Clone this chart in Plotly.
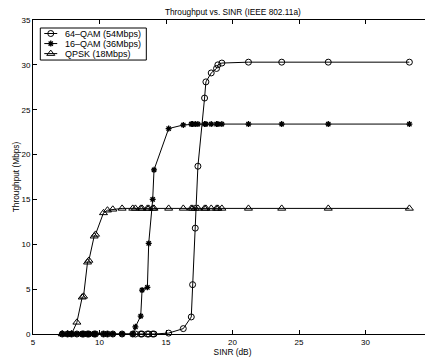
import plotly.graph_objects as go

sinr = [7.2, 7.6, 7.9, 8.3, 8.7, 8.8, 9.1, 9.2, 9.6, 9.7, 10.3, 10.6, 11.0, 11.7,
        12.5, 12.7, 13.1, 13.2, 13.6, 13.7, 14.0, 14.1, 15.2, 16.3, 16.9, 17.0,
        17.2, 17.4, 17.9, 18.0, 18.4, 18.8, 18.9, 19.2, 21.2, 23.7, 27.2, 33.3]

qam64 = [0, 0, 0, 0, 0, 0, 0, 0, 0, 0, 0, 0, 0, 0,
         0, 0, 0, 0, 0, 0, 0, 0, 0.1, 0.6, 1.9, 5.5,
         11.8, 18.7, 26.3, 28.1, 29.1, 29.6, 30.0, 30.2, 30.3, 30.3, 30.3, 30.3]

qam16 = [0, 0, 0, 0, 0, 0, 0, 0, 0, 0, 0, 0, 0, 0,
         0, 0.8, 2.0, 4.9, 5.2, 10.1, 15.0, 18.3, 22.9, 23.3, 23.4, 23.4,
         23.4, 23.4, 23.4, 23.4, 23.4, 23.4, 23.4, 23.4, 23.4, 23.4, 23.4, 23.4]

qpsk = [0, 0, 0, 1.3, 4.1, 4.2, 8.0, 8.2, 10.9, 11.1, 13.5, 13.8, 13.9, 14.0,
        14.0, 14.0, 14.0, 14.0, 14.0, 14.0, 14.0, 14.0, 14.0, 14.0, 14.0, 14.0,
        14.0, 14.0, 14.0, 14.0, 14.0, 14.0, 14.0, 14.0, 14.0, 14.0, 14.0, 14.0]

series_names = ["64\u2013QAM (54Mbps)", "16\u2013QAM (36Mbps)", "QPSK (18Mbps)"]
x_ticks = [5, 10, 15, 20, 25, 30, 35]
y_ticks = [0, 5, 10, 15, 20, 25, 30, 35]

FONT = "Liberation Sans, Arial, Helvetica, sans-serif"
LINE = dict(color="black", width=1)
MARKERS = [
    dict(symbol="circle-open", size=6, color="black", line=dict(width=1, color="black")),
    dict(symbol="asterisk-open", size=5, color="black", line=dict(width=1.3, color="black")),
    dict(symbol="triangle-up-open", size=7, color="black", line=dict(width=1, color="black")),
]

fig = go.Figure()
for name, ys, mk in zip(series_names, [qam64, qam16, qpsk], MARKERS):
    fig.add_trace(go.Scatter(x=sinr, y=ys, name=name, mode="lines+markers",
                             line=LINE, marker=mk, showlegend=False, cliponaxis=False))

# ---- custom legend (compact, like the MATLAB one) ----
LEG_X0, LEG_X1, LEG_Y0, LEG_Y1 = 0.0183, 0.284, 0.8725, 0.9745
ROW_Y = [0.957, 0.925, 0.893]
SAMPLE_X0, SAMPLE_X1, SAMPLE_XM, TEXT_X = 0.0283, 0.0607, 0.0445, 0.075

shapes = [dict(type="rect", xref="paper", yref="paper", x0=LEG_X0, x1=LEG_X1,
               y0=LEG_Y0, y1=LEG_Y1, line=dict(color="black", width=1),
               fillcolor="white", layer="below")]
annotations = []
for name, ry, mk in zip(series_names, ROW_Y, MARKERS):
    shapes.append(dict(type="line", xref="paper", yref="paper", x0=SAMPLE_X0, x1=SAMPLE_X1,
                       y0=ry, y1=ry, line=LINE, layer="above"))
    annotations.append(dict(text=name, xref="paper", yref="paper", x=TEXT_X, y=ry,
                            xanchor="left", yanchor="middle", showarrow=False,
                            font=dict(size=9, family=FONT, color="black")))
    fig.add_trace(go.Scatter(x=[SAMPLE_XM], y=[ry], xaxis="x2", yaxis="y2", mode="markers",
                             marker=mk, showlegend=False, hoverinfo="skip", cliponaxis=False))

axis_common = dict(showgrid=False, zeroline=False, showline=True, linecolor="black",
                   linewidth=1, mirror="ticks", ticks="inside", ticklen=4,
                   tickcolor="black", tickfont=dict(size=8, color="black", family=FONT),
                   automargin=False, ticklabeloverflow="allow")

fig.update_layout(
    width=425, height=352,
    template="none",
    paper_bgcolor="white", plot_bgcolor="white",
    margin=dict(l=25, r=1, t=12, b=26),
    font=dict(family=FONT, size=8, color="black"),
    title=dict(text="Throughput vs. SINR (IEEE 802.11a)", x=0.529, xanchor="center",
               y=0.989, yanchor="middle", font=dict(size=8.3, family=FONT, color="black")),
    xaxis=dict(range=[5, 35], tickvals=x_ticks,
               title=dict(text="SINR (dB)", standoff=1, font=dict(size=8.3, family=FONT)),
               **axis_common),
    yaxis=dict(range=[0, 35], tickvals=y_ticks,
               title=dict(text="Throughput (Mbps)", standoff=0, font=dict(size=8.3, family=FONT)),
               **axis_common),
    xaxis2=dict(overlaying="x", range=[0, 1], visible=False, fixedrange=True),
    yaxis2=dict(overlaying="y", range=[0, 1], visible=False, fixedrange=True),
    shapes=shapes,
    annotations=annotations,
    showlegend=False,
)

fig.write_html("out.html")
